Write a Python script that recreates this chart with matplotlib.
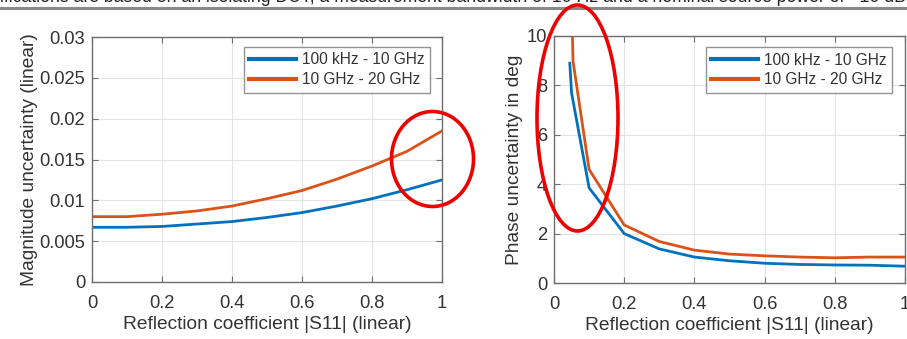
import matplotlib
matplotlib.use("Agg")
import matplotlib.pyplot as plt
from matplotlib.patches import Ellipse

# ---------------------------------------------------------------------------
# Data
# ---------------------------------------------------------------------------
LABEL_LOW = "100 kHz - 10 GHz"
LABEL_HIGH = "10 GHz - 20 GHz"

mag_x = [0.0, 0.1, 0.2, 0.3, 0.4, 0.5, 0.6, 0.7, 0.8, 0.9, 1.0]
mag_low = [0.0067, 0.0067, 0.0068, 0.0071, 0.0074, 0.0079, 0.0085, 0.0093, 0.0102, 0.0113, 0.0125]
mag_high = [0.0080, 0.0080, 0.0083, 0.0087, 0.0093, 0.0102, 0.0112, 0.0126, 0.0142, 0.0160, 0.0185]

phase_x_low = [0.045, 0.05, 0.1, 0.2, 0.3, 0.4, 0.5, 0.6, 0.7, 0.8, 0.9, 1.0]
phase_low = [8.9, 7.7, 3.85, 2.0, 1.38, 1.05, 0.9, 0.8, 0.75, 0.73, 0.72, 0.68]
phase_x_high = [0.05, 0.054, 0.1, 0.2, 0.3, 0.4, 0.5, 0.6, 0.7, 0.8, 0.9, 1.0]
phase_high = [12.0, 9.0, 4.6, 2.35, 1.68, 1.33, 1.17, 1.1, 1.05, 1.02, 1.05, 1.05]

mag_ticks = [0, 0.005, 0.01, 0.015, 0.02, 0.025, 0.03]
mag_ticklabels = ["0", "0.005", "0.01", "0.015", "0.02", "0.025", "0.03"]
phase_ticks = [0, 2, 4, 6, 8, 10]
x_ticks = [0, 0.2, 0.4, 0.6, 0.8, 1.0]
x_ticklabels = ["0", "0.2", "0.4", "0.6", "0.8", "1"]

BLUE = "#0072BD"
ORANGE = "#D95319"
TXT = "#333333"
SPINE = "#6e6e6e"

plt.rcParams["font.family"] = ["Liberation Sans", "DejaVu Sans"]

fig = plt.figure(figsize=(9.07, 3.39), dpi=100, facecolor="white")

# clipped line of document text above the plots + rule
fig.text(0.0, 1 - 2 / 339, "ifications are based on an isolating DUT, a measurement bandwidth of 10 Hz "
         "and a nominal source power of \u221210 dB",
         fontsize=12.7, color="#222222", va="baseline", ha="left")
fig.add_artist(plt.Line2D([0, 1], [1 - 8 / 339] * 2, color="#8a8a8a", lw=2.2))

ax1 = fig.add_axes([92 / 907, 1 - 282 / 339, 350 / 907, 245 / 339])
ax2 = fig.add_axes([554 / 907, 1 - 283 / 339, 351 / 907, 247 / 339])


def style_axes(ax):
    ax.grid(True, color="#e3e3e3", lw=0.8)
    ax.set_axisbelow(True)
    for sp in ax.spines.values():
        sp.set_edgecolor(SPINE)
        sp.set_linewidth(1.0)
    ax.tick_params(direction="in", top=True, right=True, length=4,
                   colors=SPINE, labelcolor=TXT, labelsize=13.2)
    ax.tick_params(axis="x", pad=9.5)
    ax.tick_params(axis="y", pad=5)


# ── left: magnitude ──────────────────────────────────────────────────────────
ax1.plot(mag_x, mag_low, color=BLUE, lw=2.0, label=LABEL_LOW)
ax1.plot(mag_x, mag_high, color=ORANGE, lw=2.0, label=LABEL_HIGH)
ax1.set_xlim(0, 1)
ax1.set_ylim(0, 0.03)
ax1.set_xticks(x_ticks, x_ticklabels)
ax1.set_yticks(mag_ticks, mag_ticklabels)
style_axes(ax1)
ax1.set_xlabel("Reflection coefficient |S11| (linear)", fontsize=13.8, color=TXT, labelpad=3)
ax1.set_ylabel("Magnitude uncertainty (linear)", fontsize=13.8, color=TXT, labelpad=1)

# ── right: phase ────────────────────────────────────────────────────────────
ax2.plot(phase_x_low, phase_low, color=BLUE, lw=2.0, label=LABEL_LOW)
ax2.plot(phase_x_high, phase_high, color=ORANGE, lw=2.0, label=LABEL_HIGH)
ax2.set_xlim(0, 1)
ax2.set_ylim(0, 10)
ax2.set_xticks(x_ticks, x_ticklabels)
ax2.set_yticks(phase_ticks)
style_axes(ax2)
ax2.set_xlabel("Reflection coefficient |S11| (linear)", fontsize=13.8, color=TXT, labelpad=3)
ax2.set_ylabel("Phase uncertainty in deg", fontsize=13.8, color=TXT, labelpad=3)

for ax, anchor in ((ax1, (0.966, 0.959)), (ax2, (0.963, 0.954))):
    leg = ax.legend(loc="upper right", bbox_to_anchor=anchor, borderaxespad=0,
                    fontsize=11.2, frameon=True, fancybox=False, handlelength=3.0,
                    handletextpad=0.4, borderpad=0.35, labelspacing=0.3,
                    labelcolor=TXT)
    leg.get_frame().set_edgecolor("#7a7a7a")
    leg.get_frame().set_linewidth(1.0)
    for ln in leg.get_lines():
        ln.set_linewidth(3.0)

# red hand-drawn highlight ellipses (figure pixel coords)
for cx, cy, w, h in ((432.5, 159, 82, 95), (577.5, 118, 81, 226)):
    fig.add_artist(Ellipse((cx / 907, 1 - cy / 339), w / 907, h / 339,
                           transform=fig.transFigure, fill=False,
                           edgecolor="#ee0000", lw=2.6, zorder=10))

fig.savefig("out.png", dpi=100, facecolor="white")
